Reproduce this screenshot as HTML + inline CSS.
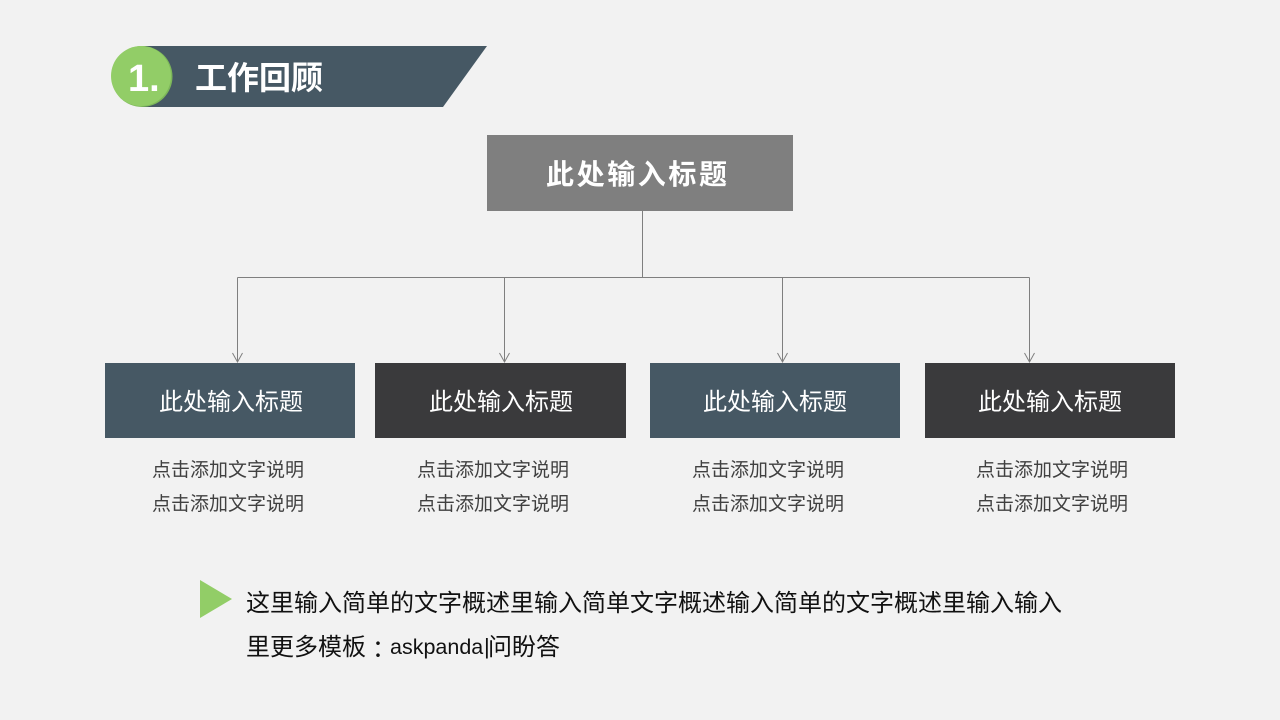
<!DOCTYPE html>
<html><head><meta charset="utf-8">
<style>
html,body{margin:0;padding:0;background:#f2f2f2}
#p{position:relative;width:1280px;height:720px;overflow:hidden;background:#f2f2f2;font-family:"Liberation Sans","Noto Sans CJK SC",sans-serif}
.t{position:absolute;white-space:nowrap;line-height:1}
.b{position:absolute;top:363px;height:75px}
.bt{color:#fff;font-size:24px;top:391px;letter-spacing:0}
.d{color:#404040;font-size:19px}
.m{font-size:24px;color:#111}
svg{position:absolute;left:0;top:0}
</style></head><body><div id="p">
<svg width="1280" height="720" viewBox="0 0 1280 720">
<polygon points="142,46 487,46 443,107 142,107" fill="#465864"/>
<circle cx="142" cy="76.5" r="30.5" fill="#7db75a"/>
<circle cx="141" cy="76" r="30" fill="#92cd67"/>
<rect x="487" y="135" width="306" height="76" fill="#7f7f7f"/>
<g fill="none" stroke="#7f7f7f" stroke-width="1">
<path d="M642.5 211V277.5M237.5 277.5H1029.5"/>
<path d="M237.5 277.5V362M504.5 277.5V362M782.5 277.5V362M1029.5 277.5V362"/>
<path d="M232.5 353L237.5 362L242.5 353M499.5 353L504.5 362L509.5 353M777.5 353L782.5 362L787.5 353M1024.5 353L1029.5 362L1034.5 353"/>
</g>
<polygon points="200,580 232,599 200,618" fill="#92cd67"/>
</svg>
<div class="t" style="left:128px;top:60px;font-size:38px;font-weight:bold;color:#fff">1.</div>
<div class="t" style="left:195px;top:62px;font-size:32px;font-weight:bold;color:#fff">工作回顾</div>
<div class="t" style="left:546px;top:161px;font-size:28px;font-weight:bold;color:#fff;letter-spacing:2.6px">此处输入标题</div>
<div class="b" style="left:105px;width:250px;background:#465864"></div>
<div class="b" style="left:375px;width:251px;background:#3a3a3c"></div>
<div class="b" style="left:650px;width:250px;background:#465864"></div>
<div class="b" style="left:925px;width:250px;background:#3a3a3c"></div>
<div class="t bt" style="left:159px">此处输入标题</div>
<div class="t bt" style="left:429px">此处输入标题</div>
<div class="t bt" style="left:703px">此处输入标题</div>
<div class="t bt" style="left:978px">此处输入标题</div>
<div class="t d" style="left:152px;top:461px">点击添加文字说明</div>
<div class="t d" style="left:152px;top:495px">点击添加文字说明</div>
<div class="t d" style="left:417px;top:461px">点击添加文字说明</div>
<div class="t d" style="left:417px;top:495px">点击添加文字说明</div>
<div class="t d" style="left:692px;top:461px">点击添加文字说明</div>
<div class="t d" style="left:692px;top:495px">点击添加文字说明</div>
<div class="t d" style="left:976px;top:461px">点击添加文字说明</div>
<div class="t d" style="left:976px;top:495px">点击添加文字说明</div>
<div class="t m" style="left:246px;top:592px">这里输入简单的文字概述里输入简单文字概述输入简单的文字概述里输入输入</div>
<div class="t m" style="left:246px;top:636px">里更多模板</div>
<div class="t m" style="left:366px;top:636px;font-family:'Noto Sans CJK TC',sans-serif">：</div>
<div class="t" style="left:390px;top:637px;font-size:21.5px;color:#111">askpanda</div>
<div class="t" style="left:484px;top:636px;font-size:22px;color:#111">|</div>
<div class="t m" style="left:488px;top:636px">问盼答</div>
</div></body></html>
